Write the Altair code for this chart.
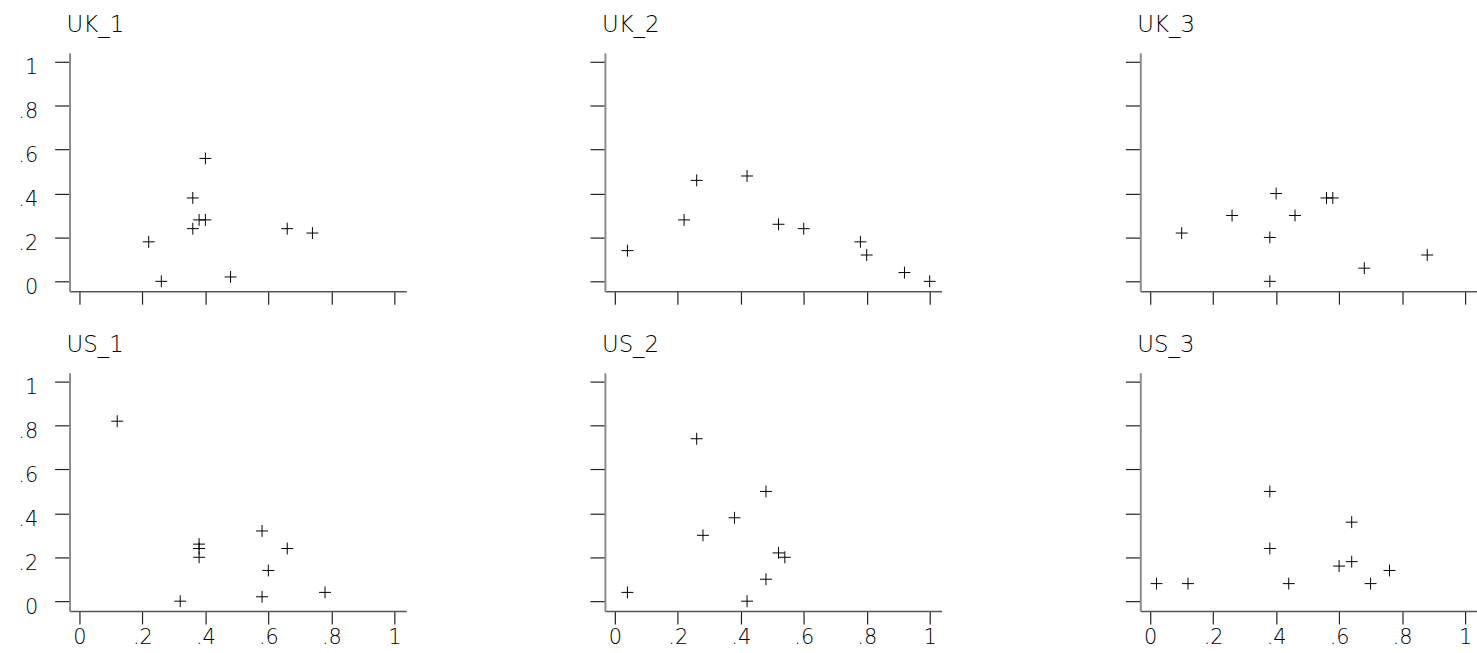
import altair as alt
import pandas as pd

# Panel names, in reading order (3 columns x 2 rows)
panels = ["UK_1", "UK_2", "UK_3", "US_1", "US_2", "US_3"]

uk1_x = [0.22, 0.26, 0.36, 0.36, 0.38, 0.40, 0.40, 0.48, 0.66, 0.74]
uk1_y = [0.18, 0.00, 0.38, 0.24, 0.28, 0.28, 0.56, 0.02, 0.24, 0.22]

uk2_x = [0.04, 0.22, 0.26, 0.42, 0.52, 0.60, 0.78, 0.80, 0.92, 1.00]
uk2_y = [0.14, 0.28, 0.46, 0.48, 0.26, 0.24, 0.18, 0.12, 0.04, 0.00]

uk3_x = [0.10, 0.26, 0.38, 0.38, 0.40, 0.46, 0.56, 0.58, 0.68, 0.88]
uk3_y = [0.22, 0.30, 0.20, 0.00, 0.40, 0.30, 0.38, 0.38, 0.06, 0.12]

us1_x = [0.12, 0.32, 0.38, 0.38, 0.38, 0.58, 0.58, 0.60, 0.66, 0.78]
us1_y = [0.82, 0.00, 0.26, 0.24, 0.20, 0.32, 0.02, 0.14, 0.24, 0.04]

us2_x = [0.04, 0.26, 0.28, 0.38, 0.42, 0.48, 0.48, 0.52, 0.54]
us2_y = [0.04, 0.74, 0.30, 0.38, 0.00, 0.50, 0.10, 0.22, 0.20]

us3_x = [0.02, 0.12, 0.38, 0.38, 0.44, 0.60, 0.64, 0.64, 0.70, 0.76]
us3_y = [0.08, 0.08, 0.50, 0.24, 0.08, 0.16, 0.36, 0.18, 0.08, 0.14]

tick_values = [0, 0.2, 0.4, 0.6, 0.8, 1]

series = {
    "UK_1": (uk1_x, uk1_y),
    "UK_2": (uk2_x, uk2_y),
    "UK_3": (uk3_x, uk3_y),
    "US_1": (us1_x, us1_y),
    "US_2": (us2_x, us2_y),
    "US_3": (us3_x, us3_y),
}

rows = []
for name in panels:
    xs, ys = series[name]
    for xv, yv in zip(xs, ys):
        rows.append({"panel": name, "x": xv, "y": yv})
df = pd.DataFrame(rows)

FONT = "DejaVu Sans"
TEXT_COLOR = "#000000"
X_DOMAIN = [-0.0315, 1.038]
Y_DOMAIN = [-0.045, 1.041]
# "0", ".2", ".4", ... "1" style labels
LABEL_EXPR = ("datum.value == 0 ? '0' : datum.value == 1 ? '1' : "
              "'.' + round(datum.value * 10)")
PLUS = "M-1,0H1M0,-1V1"


def panel_chart(name, show_x_labels, show_y_labels):
    x_axis = alt.Axis(
        values=tick_values, labels=show_x_labels, labelExpr=LABEL_EXPR,
        title=None, grid=False, tickSize=13, tickColor="#222222",
        tickWidth=1.2, domainColor="#555555", domainWidth=1.5,
        labelFont=FONT, labelFontSize=21, labelColor=TEXT_COLOR,
        labelFontWeight=200, labelPadding=3,
    )
    y_axis = alt.Axis(
        values=tick_values, labels=show_y_labels, labelExpr=LABEL_EXPR,
        title=None, grid=False, tickSize=15, tickColor="#222222",
        tickWidth=1.2, domainColor="#8c8c8c", domainWidth=2,
        labelFont=FONT, labelFontSize=21, labelColor=TEXT_COLOR,
        labelFontWeight=200, labelPadding=17, labelBaseline="top",
        labelOffset=-5,
    )
    return (
        alt.Chart(df[df["panel"] == name])
        .mark_point(shape=PLUS, filled=False, stroke="black",
                    strokeWidth=1, size=144, opacity=1)
        .encode(
            x=alt.X("x:Q", scale=alt.Scale(domain=X_DOMAIN, nice=False,
                                           zero=False), axis=x_axis),
            y=alt.Y("y:Q", scale=alt.Scale(domain=Y_DOMAIN, nice=False,
                                           zero=False), axis=y_axis),
        )
        .properties(
            width=339, height=240,
            title=alt.TitleParams(
                text=name, anchor="start", frame="group", font=FONT,
                fontSize=23, fontWeight=200, color=TEXT_COLOR,
                baseline="alphabetic", offset=-2, dx=-3,
            ),
        )
    )


charts = []
for i, name in enumerate(panels):
    charts.append(panel_chart(name, show_x_labels=(i >= 3),
                              show_y_labels=(i % 3 == 0)))

chart = (
    alt.concat(*charts, columns=3, spacing={"row": 82, "column": 200},
               bounds="flush")
    .properties(padding={"left": 17, "top": 12, "right": 0, "bottom": 0})
    .configure_view(stroke=None)
)

chart.save("out.html", embed_options={"renderer": "svg", "actions": False})
